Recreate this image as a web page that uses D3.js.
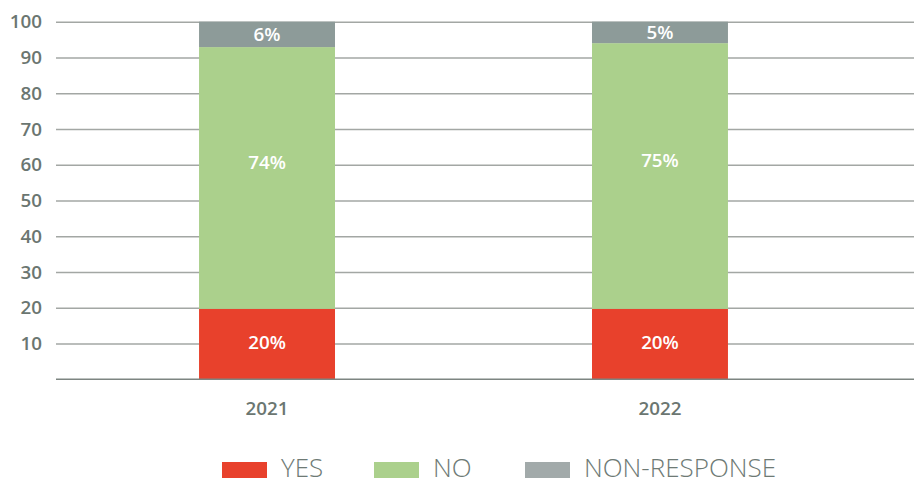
<meta charset="utf-8">
<body style="margin:0;background:#fff">
<svg width="914" height="481"></svg>
</body>
<script src="https://d3js.org/d3.v7.min.js"></script>
<script>

var years = ["2021", "2022"];
var series = ["YES", "NO", "NON-RESPONSE"];
var yesValues = [19.7, 19.7];
var noValues = [73.2, 74.3];
var nonValues = [7.1, 6.0];
var yesLabels = ["20%", "20%"];
var noLabels = ["74%", "75%"];
var nonLabels = ["6%", "5%"];
var yTicks = [10, 20, 30, 40, 50, 60, 70, 80, 90, 100];

var colors = d3.scaleOrdinal()
    .domain(series)
    .range(["#e8412c", "#abd08c", "#8d9b99"]);
var legendColors = ["#e8412c", "#abd08c", "#a2aaaa"];
// label nudge (px) per series, the middle label sits a bit high in the original
var labelNudge = [-2, -16, 0];

var svg = d3.select("svg"),
    margin = {top: 21.7, right: 0, bottom: 101.7, left: 56},
    width = +svg.attr("width") - margin.left - margin.right,
    height = +svg.attr("height") - margin.top - margin.bottom;

var rows = years.map(function(y, i) {
  return {year: y, "YES": yesValues[i], "NO": noValues[i], "NON-RESPONSE": nonValues[i],
          labels: [yesLabels[i], noLabels[i], nonLabels[i]]};
});
var stacked = d3.stack().keys(series)(rows);

var x = d3.scaleBand().domain(years).range([0, 815]).paddingInner(0.654).paddingOuter(0.364),
    y = d3.scaleLinear().domain([0, 100]).range([height, 0]);

var g = svg.append("g")
    .attr("transform", "translate(" + margin.left + "," + margin.top + ")");

// grid lines
g.append("g")
    .attr("class", "grid")
    .call(d3.axisLeft(y).tickValues(yTicks).tickSize(-width).tickFormat(""))
    .call(function(s) { s.select(".domain").remove(); })
    .selectAll("line")
    .attr("stroke", "#a3a7a4")
    .attr("stroke-width", 1.4);

// y labels
g.append("g")
    .attr("class", "axis axis--y")
    .call(d3.axisLeft(y).tickValues(yTicks).tickSize(0).tickPadding(14))
    .call(function(s) { s.select(".domain").remove(); })
    .selectAll("text")
    .attr("class", "ticktext");

// bars
var layers = g.selectAll(".layer")
  .data(stacked)
  .enter().append("g")
    .attr("class", "layer")
    .attr("fill", function(d) { return colors(d.key); });

layers.selectAll("rect")
  .data(function(d) { return d; })
  .enter().append("rect")
    .attr("x", function(d) { return x(d.data.year); })
    .attr("y", function(d) { return y(d[1]); })
    .attr("width", x.bandwidth())
    .attr("height", function(d) { return y(d[0]) - y(d[1]); });

layers.each(function(layer, li) {
  d3.select(this).selectAll("text")
    .data(layer)
    .enter().append("text")
      .attr("class", "bartext")
      .attr("x", function(d) { return x(d.data.year) + x.bandwidth() / 2; })
      .attr("y", function(d) { return (y(d[0]) + y(d[1])) / 2 + labelNudge[li]; })
      .attr("dy", ".35em")
      .text(function(d) { return d.data.labels[li]; });
});

// baseline
g.append("line")
    .attr("x1", 0).attr("x2", width)
    .attr("y1", y(0)).attr("y2", y(0))
    .attr("stroke", "#7d8581")
    .attr("stroke-width", 1.6);

// x labels
g.append("g")
    .attr("class", "axis axis--x")
    .attr("transform", "translate(0," + height + ")")
    .call(d3.axisBottom(x).tickSize(0).tickPadding(22))
    .call(function(s) { s.select(".domain").remove(); })
    .selectAll("text")
    .attr("class", "ticktext");

/*legend*/
var legendX = [222, 374, 525];
var legend = svg.append("g").attr("class", "legend");
series.forEach(function(s, i) {
  legend.append("rect")
    .attr("x", legendX[i]).attr("y", 462)
    .attr("width", 45).attr("height", 16)
    .attr("fill", legendColors[i]);
  legend.append("text")
    .attr("class", "legendtext")
    .attr("x", legendX[i] + 59).attr("y", 477)
    .text(s);
});

</script>
<style>
.ticktext {
  fill: #6b7671;
  font-family: "Open Sans", sans-serif;
  font-size: 18.8px;
  font-weight: 600;
}
.bartext {
  fill: #fff;
  font-family: "Open Sans", sans-serif;
  font-size: 18.8px;
  font-weight: 600;
  text-anchor: middle;
}
.legendtext {
  fill: #6e7a75;
  font-family: "Open Sans", sans-serif;
  font-size: 26px;
  font-weight: 300;
}
</style>
